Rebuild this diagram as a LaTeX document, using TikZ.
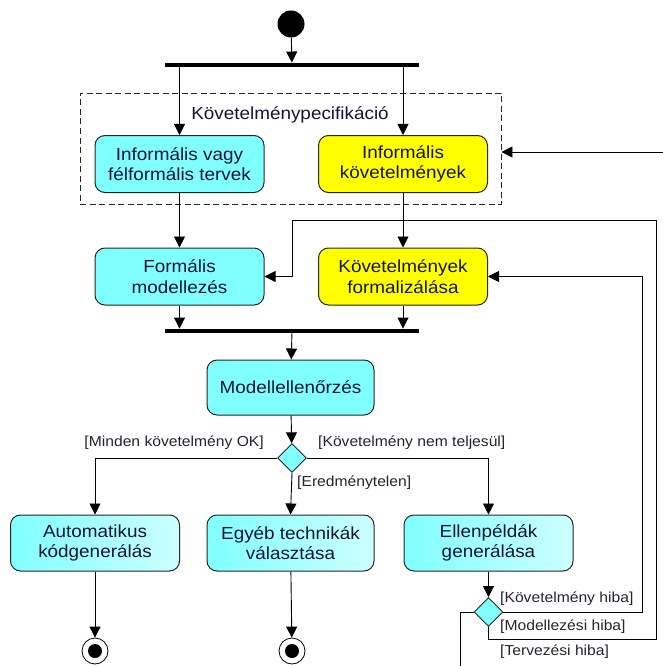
\documentclass[tikz,border=0pt]{standalone}
\usepackage{fontspec}
\setmainfont{Liberation Sans}[FakeStretch=1.08]
\usetikzlibrary{arrows.meta,shapes.geometric}
\definecolor{cy}{HTML}{80FFFF}
\definecolor{cyl}{HTML}{CCFFFF}
\definecolor{yel}{HTML}{FFFF00}
\definecolor{txt}{HTML}{141438}
\definecolor{grd}{HTML}{2A2030}
\tikzset{
  act/.style={draw=black!85, line width=1pt, rounded corners=10pt, minimum width=169pt, minimum height=57pt,
    align=center, inner sep=0pt, text=txt, font=\fontsize{17.5}{20.5}\selectfont},
  cybox/.style={act, fill=cy},
  yelbox/.style={act, fill=yel},
  gradbox/.style={act, left color=cy, right color=cyl},
  bar/.style={fill=black, draw=none, minimum height=4.5pt, minimum width=254pt, inner sep=0pt},
  dec/.style={diamond, draw=black!85, line width=0.9pt, fill=cy, minimum width=29pt, minimum height=29pt, inner sep=0pt},
  arr/.style={draw=black, line width=0.9pt, -{Triangle[length=11pt,width=11pt]}},
  ln/.style={draw=black, line width=0.9pt},
  guard/.style={text=grd, inner sep=0pt, font=\fontsize{14.5}{17}\selectfont},
  fin/.style={circle, draw=black, line width=0.8pt, fill=white, minimum size=26pt, inner sep=0pt}
}
\begin{document}
\begin{tikzpicture}[x=1pt,y=-1pt]
\useasboundingbox (0,0) rectangle (663,666);
% container
\node[draw=black!85, dash pattern=on 6pt off 3.5pt, line width=0.9pt, minimum width=421pt, minimum height=111pt, inner sep=0pt] (spec) at (290.5,148.5) {};
\node[text=txt, font=\fontsize{17.5}{20}\selectfont, inner sep=0pt] (speclbl) at (290,115) {Követelménypecifikáció};
% nodes
\node[circle, fill=black, minimum size=27pt, inner sep=0pt] (start) at (291,24) {};
\node[bar] (fork) at (292,65) {};
\node[cybox] (b1) at (179.5,164) {Informális vagy\\félformális tervek};
\node[yelbox] (b2) at (403,164) {Informális\\követelmények};
\node[cybox] (b3) at (179.5,276.5) {Formális\\modellezés};
\node[yelbox] (b4) at (403,276.5) {Követelmények\\formalizálása};
\node[bar] (join) at (292,331) {};
\node[cybox, minimum width=167pt, minimum height=55pt] (mc) at (290.5,387.5) {Modellellenőrzés};
\node[dec] (d1) at (292,458) {};
\node[gradbox, minimum height=56pt] (auto) at (95,543) {Automatikus\\kódgenerálás};
\node[gradbox, minimum width=167pt, minimum height=56pt] (egy) at (290.5,543) {Egyéb technikák\\választása};
\node[gradbox, minimum height=56pt] (ell) at (488.5,543) {Ellenpéldák\\generálása};
\node[dec] (d2) at (488.5,612) {};
\node[fin] (f1) at (95,651) {};
\node[fin] (f2) at (292,651) {};
\fill (f1.center) circle (7pt);
\fill (f2.center) circle (7pt);
% coordinates
\coordinate (in1) at (663,152);
\coordinate (r1) at (642,612);
\coordinate (r2) at (656,639);
\coordinate (r3) at (656,220);
\coordinate (r4) at (292,220);
\coordinate (r5) at (460,666);
% edges
\draw[arr] (start) -- (fork);
\draw[arr] (fork.south -| b1.north) -- (b1.north);
\draw[arr] (fork.south -| b2.north) -- (b2.north);
\draw[arr] (b1) -- (b3);
\draw[arr] (b2) -- (b4);
\draw[arr] (b3.south) -- (join.north -| b3.south);
\draw[arr] (b4.south) -- (join.north -| b4.south);
\draw[arr] (join) -- (mc);
\draw[arr] (mc) -- (d1);
\draw[arr] (d1.west) -| (auto.north);
\draw[arr] (d1.east) -| (ell.north);
\draw[arr] (d1.south) -- (egy.north);
\draw[arr] (auto) -- (f1);
\draw[arr] (egy) -- (f2);
\draw[arr] (ell) -- (d2);
\draw[arr] (in1) -- (spec.east |- in1);
\draw[arr] (d2.east) -- (r1) |- (b4.east);
\draw[arr] (d2.south) |- (r2) -- (r3) -- (r4) |- (b3.east);
\draw[ln] (d2.west) -| (r5);
% guards
\node[guard, anchor=east] (g1) at (264,443) {[Minden követelmény OK]};
\node[guard, anchor=west] (g2) at (318,443) {[Követelmény nem teljesül]};
\node[guard, anchor=west] (g3) at (297,483) {[Eredménytelen]};
\node[guard, anchor=west] (g4) at (500,599) {[Követelmény hiba]};
\node[guard, anchor=west] (g5) at (500,627) {[Modellezési hiba]};
\node[guard, anchor=west] (g6) at (500,652) {[Tervezési hiba]};
\end{tikzpicture}
\end{document}
